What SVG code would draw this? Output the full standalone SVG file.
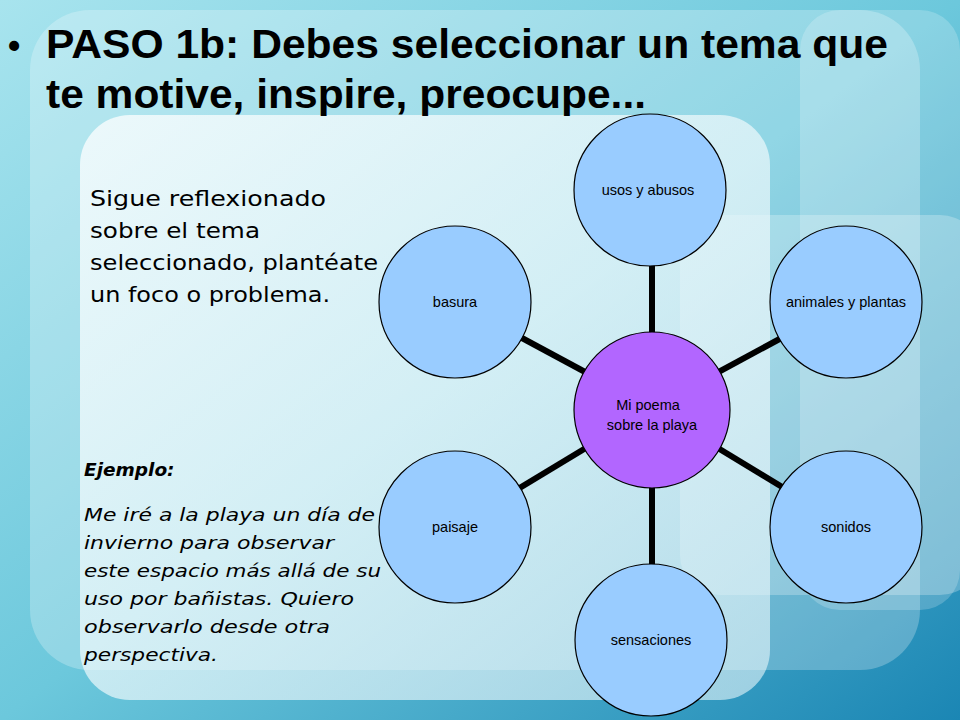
<svg xmlns="http://www.w3.org/2000/svg" width="960" height="720" viewBox="0 0 960 720">
<defs>
<linearGradient id="bg" x1="0" y1="0" x2="1" y2="1">
<stop offset="0" stop-color="#a8e4ee"/><stop offset="0.5" stop-color="#6cc8dc"/><stop offset="1" stop-color="#1b86b4"/>
</linearGradient>
<linearGradient id="pan" x1="0" y1="0" x2="1" y2="1">
<stop offset="0" stop-color="#ffffff" stop-opacity="0.75"/><stop offset="1" stop-color="#e6f6fa" stop-opacity="0.6"/>
</linearGradient>
<style>
.n{fill:#99ccff;stroke:#000;stroke-width:1.2}
.c{fill:#b266ff;stroke:#000;stroke-width:1.2}
.t{font-family:"Liberation Sans",Arial,sans-serif;font-size:14.5px;text-anchor:middle;fill:#000}
.l{stroke:#000;stroke-width:6}
.b{font-family:"DejaVu Sans",sans-serif;font-size:21px;fill:#000}
.i{font-family:"DejaVu Sans",sans-serif;font-style:italic;font-size:18.5px;fill:#000}
</style>
</defs>
<rect width="960" height="720" fill="url(#bg)"/>
<rect x="30" y="10" width="890" height="660" rx="60" fill="#ffffff" opacity="0.25"/>
<rect x="800" y="10" width="160" height="600" rx="40" fill="#ffffff" opacity="0.2"/>
<rect x="680" y="215" width="300" height="380" rx="40" fill="#ffffff" opacity="0.25"/>
<rect x="80" y="115" width="690" height="585" rx="50" fill="url(#pan)"/>
<g id="title" font-family="Liberation Sans,Arial,sans-serif" font-weight="bold" font-size="35" fill="#000">
<text x="8" y="58">•</text>
<text x="46" y="58" textLength="842" lengthAdjust="spacingAndGlyphs" font-size="40">PASO 1b: Debes seleccionar un tema que</text>
<text x="46" y="108" textLength="600" lengthAdjust="spacingAndGlyphs" font-size="40">te motive, inspire, preocupe...</text>
</g>
<g id="text1" class="b">
<text x="90" y="206" class="b" textLength="236" lengthAdjust="spacingAndGlyphs">Sigue reflexionado</text>
<text x="90" y="238" class="b" textLength="170" lengthAdjust="spacingAndGlyphs">sobre el tema</text>
<text x="90" y="270" class="b" textLength="288" lengthAdjust="spacingAndGlyphs">seleccionado, plantéate</text>
<text x="90" y="302" class="b" textLength="240" lengthAdjust="spacingAndGlyphs">un foco o problema.</text>
</g>
<g id="text2">
<text x="84" y="476" class="i" font-weight="bold">Ejemplo:</text>
<text x="84" y="521" class="i" textLength="291" lengthAdjust="spacingAndGlyphs">Me iré a la playa un día de</text>
<text x="84" y="549" class="i" textLength="250" lengthAdjust="spacingAndGlyphs">invierno para observar</text>
<text x="84" y="577" class="i" textLength="297" lengthAdjust="spacingAndGlyphs">este espacio más allá de su</text>
<text x="84" y="605" class="i" textLength="270" lengthAdjust="spacingAndGlyphs">uso por bañistas. Quiero</text>
<text x="84" y="633" class="i" textLength="246" lengthAdjust="spacingAndGlyphs">observarlo desde otra</text>
<text x="84" y="661" class="i" textLength="134" lengthAdjust="spacingAndGlyphs">perspectiva.</text>
</g>
<g id="connectors">
<line class="l" x1="652" y1="408" x2="652" y2="190"/>
<line class="l" x1="652" y1="408" x2="848" y2="302"/>
<line class="l" x1="652" y1="408" x2="848" y2="527"/>
<line class="l" x1="652" y1="408" x2="652" y2="640"/>
<line class="l" x1="652" y1="408" x2="455" y2="527"/>
<line class="l" x1="652" y1="408" x2="455" y2="302"/>
</g>
<g id="center"><circle class="c" cx="652" cy="410" r="78"/><text class="t" x="648" y="410">Mi poema</text><text class="t" x="652" y="430">sobre la playa</text></g>
<g id="usos"><circle class="n" cx="650" cy="190" r="76"/><text class="t" x="648" y="195">usos y abusos</text></g>
<g id="animales"><circle class="n" cx="846" cy="302" r="76"/><text class="t" x="846" y="307">animales y plantas</text></g>
<g id="sonidos"><circle class="n" cx="846" cy="527" r="76"/><text class="t" x="846" y="532">sonidos</text></g>
<g id="sensaciones"><circle class="n" cx="651" cy="640" r="76"/><text class="t" x="651" y="645">sensaciones</text></g>
<g id="paisaje"><circle class="n" cx="455" cy="527" r="76"/><text class="t" x="455" y="532">paisaje</text></g>
<g id="basura"><circle class="n" cx="455" cy="302" r="76"/><text class="t" x="455" y="307">basura</text></g>
</svg>
